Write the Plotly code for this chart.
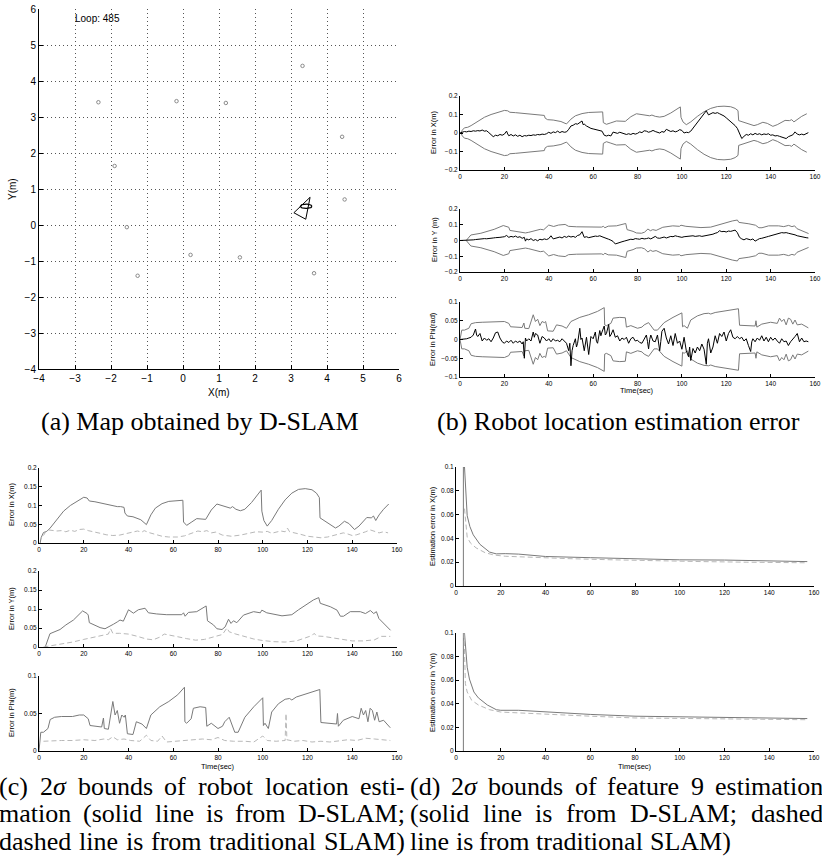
import numpy as np
import plotly.graph_objects as go

W, H = 822, 868

# ---------------- DATA ----------------
# (a) map
lm_x = [-2.35, -0.18, 1.19, 3.32, 4.42, -1.90, 4.49, -1.56, 0.21, 1.58, -1.26, 3.64]
lm_y = [3.41, 3.44, 3.39, 4.42, 2.45, 1.64, 0.71, -0.06, -0.83, -0.90, -1.41, -1.34]
fov_x = [3.08, 3.53, 3.41, 3.08]
fov_y = [0.34, 0.77, 0.16, 0.34]
robot_cx, robot_cy, robot_rx, robot_ry = 3.42, 0.52, 0.16, 0.06
loop_label = "Loop: 485"

# D-SLAM 2-sigma bounds (robot)
sx = [(0.5,0),(1,0.015),(2,0.028),(3.5,0.031),(5,0.04),(7,0.056),(9,0.072),(11,0.085),(14,0.1),(17,0.11),
      (20,0.122),(21.5,0.12),(22.5,0.112),(25,0.11),(28,0.106),(31,0.102),(33.5,0.1),(35,0.097),(36.5,0.097),
      (38,0.095),(38.4,0.08),(39.5,0.072),(42,0.07),(44,0.065),(45.5,0.062),(48,0.049),(50,0.075),(52,0.093),
      (55,0.105),(58,0.111),(61,0.113),(64.3,0.114),(64.6,0.056),(66,0.047),(68,0.055),(70.5,0.065),(74.5,0.063),
      (77,0.088),(79.5,0.104),(82,0.1),(84,0.097),(85.5,0.093),(86.5,0.097),(88,0.09),(90,0.086),(92,0.09),
      (95,0.108),(98,0.13),(99.3,0.141),(99.6,0.085),(100.5,0.06),(102,0.045),(104,0.06),(107,0.09),(110,0.115),
      (113,0.133),(116,0.143),(119,0.145),(122,0.142),(124,0.133),(125.3,0.121),(125.6,0.067),(128,0.058),
      (131,0.045),(132.5,0.04),(134,0.045),(136.5,0.058),(138.5,0.052),(141,0.036),(143,0.045),(145.5,0.06),
      (146.5,0.068),(148.5,0.067),(149.5,0.072),(150.5,0.06),(152,0.075),(154,0.09),(156.3,0.104)]
sy = [(2.8,0),(4.9,0.035),(9.4,0.046),(12,0.058),(15.4,0.071),(19.5,0.095),(21.5,0.088),(22,0.084),(22.5,0.064),
      (27.3,0.051),(29.5,0.048),(31,0.052),(33.3,0.06),(35,0.066),(36.2,0.071),(37.7,0.068),(40,0.098),(42.2,0.089),
      (44.4,0.098),(47.4,0.102),(48.9,0.09),(52.6,0.087),(57.1,0.085),(63.8,0.085),(64.6,0.09),(65.3,0.081),
      (66.8,0.091),(70.5,0.093),(74.7,0.108),(75.3,0.069),(78,0.058),(79.5,0.048),(81.8,0.046),(83.2,0.053),
      (84.7,0.073),(85.8,0.062),(86.9,0.069),(88.4,0.064),(91.4,0.084),(95.9,0.093),(98.9,0.09),(99.6,0.097),
      (101.8,0.09),(108.6,0.082),(113,0.085),(116,0.098),(119,0.11),(122.7,0.124),(125,0.13),(125.7,0.115),
      (130.2,0.106),(133.2,0.097),(134.7,0.081),(136.1,0.081),(139.1,0.093),(143.6,0.093),(145.9,0.088),
      (148.1,0.096),(149.6,0.088),(150.8,0.093),(151.9,0.075),(154.1,0.062),(157.1,0.044)]
sphi = [(0,0),(0.8,0.025),(2,0.025),(3,0.028),(4,0.03),(5,0.042),(7,0.045),(10,0.046),(15,0.046),(18,0.048),
        (20,0.048),(22,0.043),(22.8,0.034),(28,0.032),(28.8,0.044),(29.2,0.03),(31,0.029),(33,0.066),(34,0.048),
        (35,0.054),(36,0.037),(37,0.048),(38,0.045),(38.6,0.048),(39.5,0.023),(42,0.022),(43.5,0.039),(46,0.036),
        (48,0.03),(50,0.048),(54,0.059),(58,0.066),(62,0.075),(65,0.085),(65.2,0.039),(66,0.037),(68,0.043),
        (69,0.057),(72,0.059),(74.5,0.058),(75,0.033),(77,0.037),(80,0.03),(82,0.033),(83,0.039),(85,0.045),
        (86,0.036),(87.5,0.025),(89,0.025),(92,0.045),(96,0.059),(100,0.071),(100.3,0.034),(101,0.037),
        (102.5,0.03),(104,0.052),(107,0.063),(110,0.069),(112,0.07),(113,0.068),(115,0.072),(120,0.077),
        (125.5,0.082),(126,0.038),(130,0.037),(133,0.036),(133.4,0.05),(133.8,0.033),(136,0.041),(140,0.046),
        (143,0.043),(144,0.057),(145,0.048),(146,0.054),(147,0.039),(148,0.057),(149,0.054),(150,0.041),
        (151,0.052),(152,0.039),(154,0.041),(157,0.031)]

# traditional SLAM 2-sigma bounds (robot)
tx = [(2,0.02),(3,0.03),(4,0.035),(6,0.034),(8,0.032),(10,0.033),(12,0.03),(14,0.034),(16,0.031),(18,0.036),
      (20,0.037),(22,0.033),(25,0.03),(28,0.025),(30,0.022),(33,0.02),(36,0.021),(39,0.025),(42,0.03),(44,0.032),
      (46,0.029),(47,0.033),(49,0.028),(52,0.022),(55,0.018),(58,0.016),(62,0.016),(65,0.019),(68,0.025),
      (71,0.032),(73,0.03),(75,0.033),(77,0.027),(79,0.029),(82,0.021),(86,0.018),(90,0.021),(94,0.027),
      (97,0.03),(100,0.029),(102,0.031),(104,0.026),(106,0.03),(108,0.032),(110,0.03),(111,0.04),(112,0.03),
      (114,0.028),(117,0.023),(120,0.018),(123,0.015),(126,0.014),(129,0.016),(132,0.02),(134,0.024),
      (136,0.027),(138,0.024),(140,0.02),(142,0.022),(144,0.025),(146,0.03),(148,0.035),(150,0.032),
      (152,0.027),(154,0.03),(156,0.027)]
ty = [(2,0),(5,0.003),(10,0.008),(15,0.013),(20,0.02),(25,0.027),(28,0.03),(31,0.034),(32,0.048),(33,0.036),
      (36,0.036),(40,0.034),(44,0.028),(48,0.021),(51,0.019),(54,0.026),(56,0.034),(58,0.031),(62,0.027),
      (66,0.022),(70,0.018),(74,0.02),(78,0.027),(82,0.033),(84,0.05),(85,0.04),(88,0.034),(92,0.027),
      (96,0.021),(100,0.017),(105,0.014),(110,0.013),(115,0.016),(119,0.024),(122,0.03),(123,0.036),
      (124,0.029),(127,0.028),(131,0.024),(135,0.019),(140,0.016),(145,0.016),(150,0.019),(153,0.028),(157,0.028)]
tphi = [(2,0.013),(6,0.014),(10,0.014),(15,0.014),(20,0.015),(25,0.014),(29,0.016),(31,0.015),(33,0.019),
        (35,0.015),(38,0.016),(41,0.014),(45,0.013),(48,0.021),(50,0.014),(53,0.013),(55,0.02),(57,0.012),
        (61,0.013),(65,0.014),(69,0.015),(73,0.016),(77,0.015),(80,0.018),(83,0.014),(87,0.013),(92,0.013),
        (96,0.012),(100,0.02),(102,0.014),(106,0.013),(110,0.014),(110.4,0.05),(110.8,0.015),(114,0.013),
        (118,0.014),(122,0.012),(126,0.013),(130,0.012),(134,0.014),(138,0.015),(142,0.014),(146,0.017),
        (150,0.016),(154,0.015),(157,0.014)]

# (b) robot estimation errors
ex = [(0,0),(1,0.005),(2,0.008),(3,0.006),(4,0.01),(5,0.008),(6,0.012),(7,0.01),(8,0.013),(9,0.011),(10,0.016),
      (11,0.01),(12,0.012),(13,0.002),(14,-0.008),(15,-0.02),(16,-0.012),(17,-0.015),(18,-0.008),(19,-0.012),
      (20,-0.006),(21,0.01),(21.5,-0.005),(22,-0.015),(23,-0.008),(24,-0.016),(25,-0.01),(26,-0.018),(27,-0.012),
      (28,-0.02),(29,-0.014),(30,-0.016),(31,-0.012),(32,-0.014),(33,-0.01),(34,-0.012),(35,-0.008),(36,-0.01),
      (37,-0.006),(38,-0.008),(39,-0.004),(40,0.004),(41,-0.002),(42,0.006),(43,0.002),(44,0.01),(45,0.002),
      (46,0.008),(47,0.004),(48,0.006),(49,0.02),(50,0.038),(51,0.042),(52,0.05),(53,0.048),(54,0.058),(55,0.065),
      (55.5,0.045),(56,0.048),(57,0.038),(58,0.03),(59,0.025),(60,0.022),(61,0.018),(62,0.015),(63,0.012),(64,0.01),
      (65,-0.012),(66,-0.016),(67,-0.012),(68,-0.016),(69,0.005),(70,0.003),(71,-0.002),(72,0.004),(73,0.0),
      (74,-0.004),(75,-0.008),(76,-0.004),(77,-0.008),(78,-0.002),(79,-0.006),(80,-0.002),(81,0.006),(82,0.002),
      (83,0.012),(84,0.01),(85,0.004),(86,0.008),(87,0.014),(88,0.008),(89,0.004),(90,0.0),(91,0.008),(92,0.004),
      (93,0.02),(94,0.014),(95,0.008),(96,0.012),(97,0.006),(98,0.01),(99,0.018),(100,0.014),(101,0.0),(102,0.004),
      (103,0.002),(104,0.01),(105,0.025),(106,0.04),(107,0.055),(108,0.07),(109,0.085),(110,0.1),(111,0.12),
      (112,0.098),(113,0.105),(114,0.11),(115,0.106),(116,0.11),(117,0.104),(118,0.1),(119,0.092),(120,0.082),
      (121,0.072),(122,0.062),(123,0.052),(124,0.04),(125,0.025),(126,0.0),(127,-0.03),(128,-0.018),(129,-0.008),
      (130,-0.012),(131,-0.004),(132,-0.01),(133,-0.002),(134,-0.008),(135,-0.004),(136,-0.01),(137,-0.005),
      (138,-0.008),(139,-0.004),(140,-0.012),(141,-0.01),(142,-0.016),(143,-0.014),(144,-0.018),(145,-0.022),
      (146,-0.026),(147,-0.03),(148,-0.02),(149,-0.014),(150,-0.01),(151,0.006),(152,-0.006),(153,-0.01),
      (154,-0.006),(155,-0.01),(156,-0.004),(157,0.002)]
ey = [(0,0),(3,0),(4,0.002),(5,0.003),(6,0.004),(7,0.006),(8,0.008),(9,0.009),(10,0.01),(11,0.012),(12,0.011),
      (13,0.014),(14,0.015),(15,0.016),(16,0.018),(17,0.017),(18,0.02),(19,0.022),(20,0.024),(21,0.032),(22,0.02),
      (23,0.026),(24,0.022),(25,0.028),(26,0.02),(27,0.024),(28,0.014),(29,0.02),(29.5,-0.004),(30,0.01),(31,0.004),
      (32,0.012),(33,0.0),(34,0.006),(35,-0.002),(36,0.008),(37,0.004),(38,0.01),(39,0.006),(40,0.012),(41,0.03),
      (42,0.01),(43,0.014),(44,0.018),(45,0.022),(46,0.016),(47,0.026),(48,0.02),(49,0.028),(50,0.022),(51,0.026),
      (52,0.02),(53,0.032),(54,0.036),(55,0.056),(56,0.02),(57,0.024),(58,0.018),(59,0.022),(60,0.024),(61,0.028),
      (62,0.026),(63,0.03),(64,0.024),(65,0.02),(66,0.012),(67,0.008),(68,0.002),(69,-0.006),(70,-0.022),
      (71,-0.016),(72,-0.012),(73,-0.008),(74,-0.004),(75,0.0),(76,0.004),(77,0.008),(78,0.006),(79,0.012),
      (80,0.01),(81,0.008),(82,0.014),(83,0.01),(84,0.012),(85,0.016),(86,0.01),(87,0.018),(88,0.026),(89,0.016),
      (90,0.014),(91,0.018),(92,0.022),(93,0.016),(94,0.02),(95,0.026),(96,0.024),(97,0.03),(98,0.026),(99,0.022),
      (100,0.02),(101,0.024),(102,0.026),(103,0.028),(104,0.032),(105,0.03),(106,0.026),(107,0.028),(108,0.03),
      (109,0.026),(110,0.028),(111,0.032),(112,0.036),(113,0.034),(114,0.04),(115,0.046),(116,0.05),(117,0.062),
      (118,0.056),(119,0.058),(120,0.054),(121,0.06),(122,0.058),(123,0.062),(124,0.066),(125,0.05),(126,0.02),
      (127,0.01),(128,0.004),(129,0.012),(130,0.008),(131,0.004),(132,0.01),(133,-0.004),(134,0.004),(135,0.012),
      (136,0.014),(137,0.02),(138,0.022),(139,0.026),(140,0.03),(141,0.034),(142,0.04),(143,0.044),(144,0.046),
      (145,0.05),(146,0.048),(147,0.05),(148,0.046),(149,0.044),(150,0.04),(151,0.036),(152,0.03),(153,0.026),
      (154,0.022),(155,0.02),(156,0.018),(157,0.016)]
ephi = [(0,0),(1,0),(2,0.001),(3,0.002),(4,0.004),(5,0.006),(6,0.012),(7,0.028),(7.5,0.012),(8,0.008),(9,0.016),
        (10,-0.004),(11,0.004),(12,-0.002),(13,0.002),(14,-0.006),(15,0.004),(16,0.018),(17,0.02),(18,0.004),
        (19,-0.006),(20,-0.01),(21,-0.004),(22,-0.008),(23,-0.002),(24,-0.01),(25,-0.004),(26,-0.008),(27,-0.004),
        (28,-0.012),(28.5,-0.006),(29,-0.05),(29.5,0.004),(30,-0.004),(31,0.002),(32,-0.004),(33,0.02),(33.5,0.006),
        (34,0.016),(35,0.012),(36,-0.01),(37,0.008),(38,0.004),(39,-0.004),(40,0.002),(41,-0.006),(42,0.002),
        (43,-0.004),(44,-0.002),(45,-0.006),(46,0.002),(47,-0.004),(48,-0.01),(48.5,-0.02),(49,-0.03),(49.5,-0.01),
        (50,-0.07),(50.5,-0.03),(51,-0.016),(52,0.002),(52.5,-0.02),(53,-0.01),(54,0.03),(54.5,0.0),(55,0.004),
        (56,-0.03),(56.5,-0.004),(57,0.006),(58,-0.04),(58.5,-0.01),(59,0.008),(60,0.002),(61,0.02),(61.5,-0.005),
        (62,-0.01),(63,0.024),(63.5,0.01),(64,0.02),(65,0.036),(65.5,0.012),(66,0.016),(67,0.04),(67.5,0.008),
        (68,0.012),(69,0.026),(70,0.006),(71,0.01),(72,-0.004),(73,0.004),(74,0.0),(75,0.006),(76,-0.01),(77,0.002),
        (78,0.006),(79,-0.004),(80,-0.002),(81,-0.008),(82,-0.01),(83,0.002),(84,0.012),(84.5,-0.005),(85,-0.025),
        (85.5,0.0),(86,0.012),(87,-0.004),(88,-0.006),(89,0.012),(89.5,-0.01),(90,-0.03),(90.5,-0.005),(91,0.022),
        (92,0.03),(92.5,0.012),(93,0.004),(94,-0.012),(95,0.01),(96,-0.016),(97,0.016),(98,-0.01),(99,-0.004),
        (100,-0.026),(100.5,-0.004),(101,0.006),(102,-0.03),(103,-0.046),(103.5,-0.02),(104,-0.056),(105,-0.024),
        (106,-0.036),(107,-0.02),(108,-0.03),(109,-0.012),(110,-0.026),(111,-0.066),(111.5,-0.01),(112,0.002),
        (113,-0.036),(114,-0.02),(115,0.01),(116,-0.01),(117,0.016),(118,0.008),(119,0.02),(120,-0.004),(121,0.016),
        (122,0.026),(123,0.006),(124,0.002),(125,0.008),(126,0.002),(127,0.006),(128,-0.004),(129,0.002),
        (130,-0.016),(131,-0.032),(131.5,-0.006),(132,0.002),(133,-0.006),(134,0.004),(135,-0.002),(136,0.01),
        (137,-0.004),(138,0.006),(139,-0.006),(140,0.006),(141,-0.002),(142,0.004),(143,-0.004),(144,-0.01),
        (145,0.002),(146,-0.006),(147,-0.004),(148,-0.016),(149,-0.006),(150,0.0),(151,0.008),(152,0.016),
        (152.5,0.0),(153,-0.006),(154,0.004),(155,-0.006),(156,-0.004),(157,-0.006)]

# (d) feature 9 2-sigma bounds
fx_d = [(3.3,0),(3.3,0.1),(3.8,0.1),(4.5,0.072),(5,0.059),(6.2,0.05),(7.7,0.043),(10.7,0.035),(15,0.0285),
        (18,0.027),(22,0.0272),(28,0.0268),(40,0.0248),(60,0.0238),(80,0.0228),(100,0.022),(120,0.0218),
        (140,0.021),(157,0.0205)]
fx_t = [(3.8,0.065),(4.5,0.046),(5,0.041),(6.5,0.036),(9,0.032),(13,0.028),(17,0.026),(22,0.025),(35,0.024),
        (50,0.023),(70,0.022),(90,0.021),(110,0.0205),(130,0.02),(157,0.0195)]
fy_d = [(3.3,0),(3.3,0.1),(3.8,0.1),(5,0.071),(6,0.061),(8,0.05),(10,0.045),(14,0.039),(18,0.035),(20,0.0345),
        (28,0.0345),(40,0.033),(60,0.031),(80,0.0295),(100,0.029),(120,0.0285),(140,0.028),(157,0.0275)]
fy_t = [(3.6,0.1),(4.2,0.057),(5,0.05),(7,0.043),(10,0.039),(15,0.035),(20,0.033),(30,0.032),(40,0.031),
        (60,0.0295),(80,0.028),(100,0.0275),(120,0.027),(140,0.0265),(157,0.0265)]

# captions
cap_a = "(a) Map obtained by D-SLAM"
cap_b = "(b) Robot location estimation error"
cap_c = ["(c) 2σ bounds of robot location esti-",
         "mation (solid line is from D-SLAM;",
         "dashed line is from traditional SLAM)"]
cap_d = ["(d) 2σ bounds of feature 9 estimation",
         "(solid line is from D-SLAM; dashed",
         "line is from traditional SLAM)"]

# ---------------- HELPERS ----------------
def xdom(l, r):
    return [l / W, r / W]

def ydom(top, bot):
    return [1 - bot / H, 1 - top / H]

SANS = "Liberation Sans, Arial, sans-serif"
SERIF = "Liberation Serif, Times New Roman, serif"
GRAY = "#7a7a7a"
LGRAY = "#b8b8b8"

fig = go.Figure()

def unzip(pairs):
    return [p[0] for p in pairs], [p[1] for p in pairs]

def add_line(pairs, ax, color, width=1.0, dash=None, sign=1):
    t, v = unzip(pairs)
    fig.add_trace(go.Scatter(x=t, y=[sign * a for a in v], mode="lines",
                             line=dict(color=color, width=width, dash=dash),
                             xaxis="x" + ax, yaxis="y" + ax, showlegend=False, hoverinfo="skip"))

# ---- (a) map ----
fig.add_trace(go.Scatter(x=lm_x, y=lm_y, mode="markers",
                         marker=dict(symbol="circle-open", size=3.5, color="#8a8a8a", line=dict(width=1)),
                         xaxis="x", yaxis="y", showlegend=False, hoverinfo="skip"))
fig.add_trace(go.Scatter(x=fov_x, y=fov_y, mode="lines", line=dict(color="black", width=1),
                         xaxis="x", yaxis="y", showlegend=False, hoverinfo="skip"))
th = np.linspace(0, 2 * np.pi, 60)
fig.add_trace(go.Scatter(x=robot_cx + robot_rx * np.cos(th), y=robot_cy + robot_ry * np.sin(th), mode="lines",
                         line=dict(color="black", width=1.3), xaxis="x", yaxis="y",
                         showlegend=False, hoverinfo="skip"))

# ---- (b) ----
for ax, s, e in (("2", sx, ex), ("3", sy, ey), ("4", sphi, ephi)):
    add_line(s, ax, GRAY, 1.0)
    add_line(s, ax, GRAY, 1.0, sign=-1)
    add_line(e, ax, "black", 1.0)

# ---- (c) ----
for ax, s, t in (("5", sx, tx), ("6", sy, ty), ("7", sphi, tphi)):
    add_line(s, ax, GRAY, 1.0)
    add_line(t, ax, LGRAY, 1.0, dash="5px,3px")

# ---- (d) ----
add_line(fx_d, "8", GRAY, 1.0)
add_line(fx_t, "8", LGRAY, 1.0, dash="5px,3px")
add_line(fy_d, "9", GRAY, 1.0)
add_line(fy_t, "9", LGRAY, 1.0, dash="5px,3px")

# ---------------- AXES ----------------
def axis(dom, rng, tickvals, ticktext, anchor, fsize, ticklen=3, **kw):
    d = dict(domain=dom, range=rng, tickvals=tickvals, ticktext=ticktext, anchor=anchor,
             showline=True, linecolor="black", linewidth=1, ticks="inside", ticklen=ticklen,
             tickcolor="black", tickwidth=1, showgrid=False, zeroline=False, mirror=False,
             automargin=False, ticklabeloverflow="allow",
             tickfont=dict(family=SANS, size=fsize, color="black"), fixedrange=True)
    d.update(kw)
    return d

def mlab(v):
    return ("%g" % v).replace("-", "\u2212")

time_ticks = list(range(0, 161, 20))
time_text = [str(v) for v in time_ticks]
lay = {}

# (a)
ia = list(range(-4, 7))
grid_kw = dict(showgrid=True, gridcolor="#555555", gridwidth=0.7, griddash="1px,3px")
lay["xaxis"] = axis(xdom(39, 399), [-4, 6], ia, [mlab(v) for v in ia], "y", 10, 4, **grid_kw)
lay["yaxis"] = axis(ydom(9, 369), [-4, 6], ia, [mlab(v) for v in ia], "x", 10, 4, **grid_kw)

# (b)
b_rows = {"2": ((96, 170), [-0.2, 0.2], [-0.2, -0.1, 0, 0.1, 0.2]),
          "3": ((209, 272), [-0.2, 0.2], [-0.2, -0.1, 0, 0.1, 0.2]),
          "4": ((302, 377), [-0.1, 0.1], [-0.1, -0.05, 0, 0.05, 0.1])}
for ax, (yy, rng, tv) in b_rows.items():
    lay["xaxis" + ax] = axis(xdom(460, 815), [0, 160], time_ticks, time_text, "y" + ax, 6.5)
    lay["yaxis" + ax] = axis(ydom(*yy), rng, tv, [mlab(v) for v in tv], "x" + ax, 6.5)

# (c)
c_rows = {"5": ((468, 543), [0, 0.2], [0, 0.05, 0.1, 0.15, 0.2]),
          "6": ((571, 647), [0, 0.2], [0, 0.05, 0.1, 0.15, 0.2]),
          "7": ((676, 751), [0, 0.1], [0, 0.05, 0.1])}
for ax, (yy, rng, tv) in c_rows.items():
    lay["xaxis" + ax] = axis(xdom(39, 397), [0, 160], time_ticks, time_text, "y" + ax, 6.5)
    lay["yaxis" + ax] = axis(ydom(*yy), rng, tv, [mlab(v) for v in tv], "x" + ax, 6.5)

# (d)
d_rows = {"8": (467, 586), "9": (633, 751)}
dtv = [0, 0.02, 0.04, 0.06, 0.08, 0.1]
for ax, yy in d_rows.items():
    lay["xaxis" + ax] = axis(xdom(456, 814), [0, 160], time_ticks, time_text, "y" + ax, 6.5)
    lay["yaxis" + ax] = axis(ydom(*yy), [0, 0.1], dtv, [mlab(v) for v in dtv], "x" + ax, 6.5)

# ---------------- TEXT ----------------
ann = []

def txt(x, y, s, size, family=SANS, angle=0, xanchor="center", yanchor="middle"):
    ann.append(dict(x=x / W, y=1 - y / H, xref="paper", yref="paper", text=s, showarrow=False,
                    textangle=angle, xanchor=xanchor, yanchor=yanchor, borderpad=0,
                    font=dict(family=family, size=size, color="black")))

# (a)
ann.append(dict(x=-3.03, y=5.74, xref="x", yref="y", text=loop_label, showarrow=False,
                xanchor="left", yanchor="middle", borderpad=0,
                font=dict(family=SANS, size=10, color="black")))
txt(12, 189, "Y(m)", 10, angle=-90)
txt(219, 392, "X(m)", 10)
# (b)
txt(434, 133, "Error in X(m)", 7.5, angle=-90)
txt(434, 240, "Error in Y (m)", 7.5, angle=-90)
txt(432, 339, "Error in Phi(rad)", 7.5, angle=-90)
txt(637, 390, "Time(sec)", 7.5)
# (c)
txt(11, 505, "Error in X(m)", 7.5, angle=-90)
txt(11, 609, "Error in Y(m)", 7.5, angle=-90)
txt(11, 713, "Error in Phi(m)", 7.5, angle=-90)
txt(218, 766, "Time(sec)", 7.5)
# (d)
txt(432, 526, "Estimation error in X(m)", 7.5, angle=-90)
txt(432, 692, "Estimation error in Y(m)", 7.5, angle=-90)
txt(635, 766, "Time(sec)", 7.5)

# captions (Liberation Serif is metric-compatible with Times; justify words like TeX)
CAP = 26
TW = {" ": 250, "(": 333, ")": 333, ";": 278, "-": 333, "2": 500, "9": 500, "σ": 500,
      "a": 444, "b": 500, "c": 444, "d": 500, "e": 444, "f": 333, "g": 500, "h": 500, "i": 278,
      "l": 278, "m": 778, "n": 500, "o": 500, "p": 500, "r": 333, "s": 389, "t": 278, "u": 500,
      "y": 500, "A": 722, "D": 722, "L": 611, "M": 889, "S": 556, "R": 667}

def wwidth(w):
    return sum(TW.get(ch, 500) for ch in w) * CAP / 1000.0

def fmt(w):
    return w.replace("σ", "<i>σ</i>")

def justify(line, left, right, y, natural=False):
    words = line.split(" ")
    widths = [wwidth(w) for w in words]
    gap = TW[" "] * CAP / 1000.0 if natural else (right - left - sum(widths)) / (len(words) - 1)
    x = left
    for w, wd in zip(words, widths):
        txt(x, y, fmt(w), CAP, SERIF, xanchor="left")
        x += wd + gap

txt(200, 421, cap_a, CAP, SERIF)
txt(618, 421, cap_b, CAP, SERIF)
cap_y = [786, 813, 841]
for i, line in enumerate(cap_c):
    justify(line, -2, 404, cap_y[i])
for i, line in enumerate(cap_d):
    justify(line, 409, 822, cap_y[i], natural=(i == 2))

fig.update_layout(width=W, height=H, margin=dict(l=0, r=0, t=0, b=0, autoexpand=False),
                  paper_bgcolor="white", plot_bgcolor="white", annotations=ann, **lay)

fig.write_html("out.html", config={"displayModeBar": False},
               post_script="document.body.style.margin='0px';document.body.style.overflow='hidden';")
